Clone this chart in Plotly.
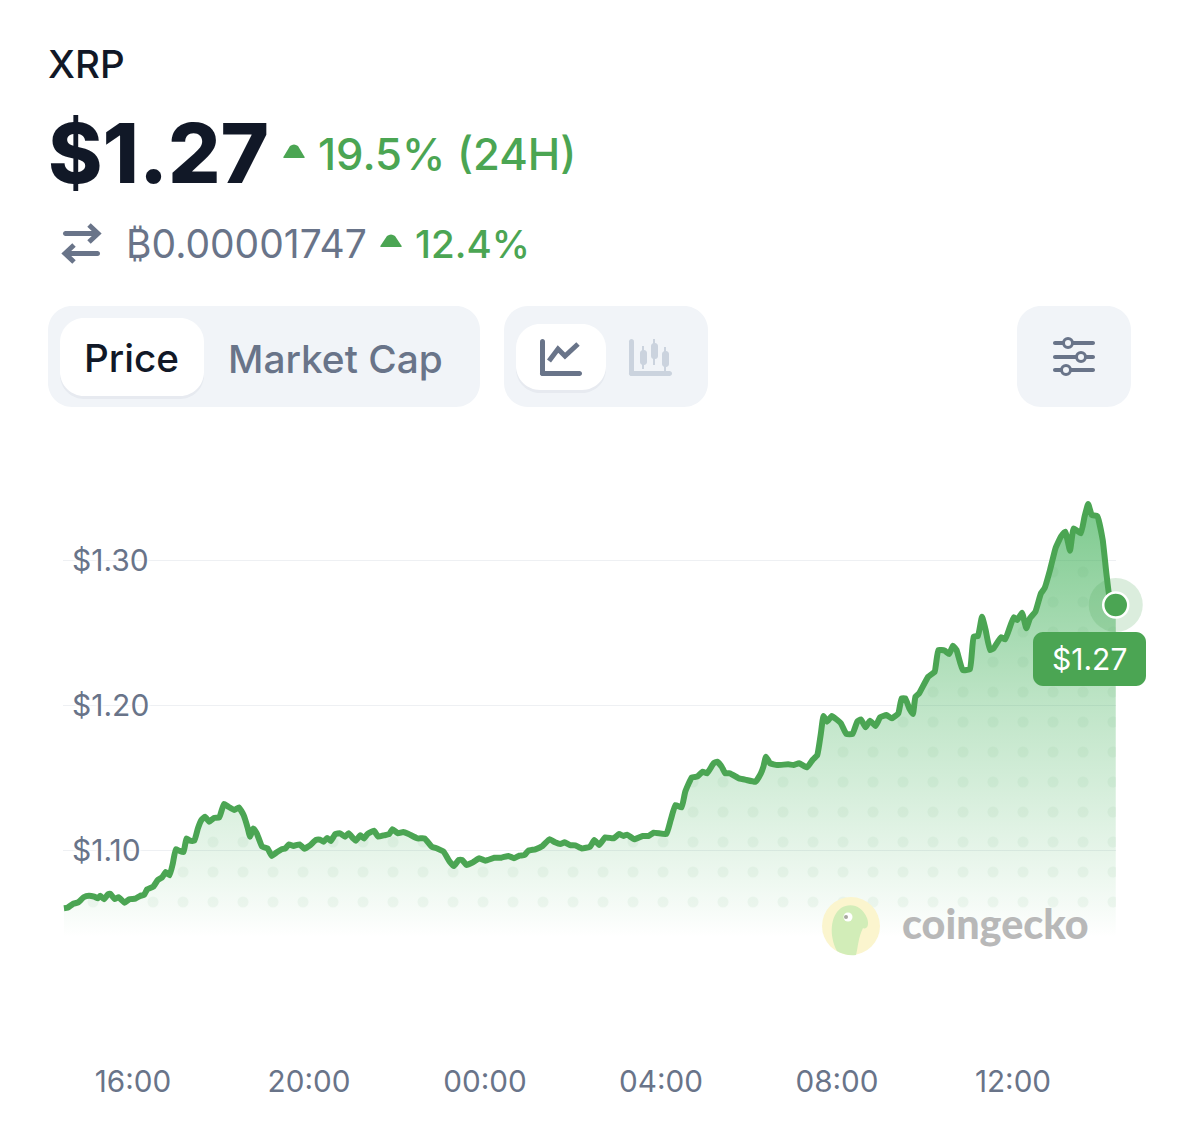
import numpy as np
import plotly.graph_objects as go

W, H = 1179, 1121
GREEN = "#4BA553"
SLATE = "#697489"
INK = "#111827"
PANEL = "#F1F4F8"

# hours since midnight of the first day
hours = [14.430,14.511,14.633,14.755,14.877,14.998,15.120,15.201,15.258,15.339,15.429,15.485,15.583,15.672,15.810,15.916,
16.054,16.159,16.256,16.321,16.459,16.565,16.662,16.744,16.833,16.906,16.971,17.052,17.149,17.214,17.295,17.393,17.474,17.555,17.636,17.734,17.839,17.961,
18.066,18.164,18.302,18.407,18.513,18.610,18.659,18.732,18.813,18.935,19.057,19.154,19.260,19.381,19.463,19.544,19.649,19.787,19.893,
20.031,20.153,20.250,20.331,20.412,20.493,20.599,20.704,20.818,20.899,21.005,21.062,21.167,21.248,21.329,21.476,21.573,21.695,21.817,21.898,
22.020,22.142,22.263,22.466,22.628,22.791,22.912,23.059,23.197,23.294,23.400,23.481,23.578,23.724,23.870,
24.008,24.211,24.373,24.535,24.657,24.779,24.901,24.982,25.144,25.307,25.469,25.591,25.712,25.810,25.931,26.053,26.200,
26.386,26.485,26.593,26.733,26.923,27.047,27.146,27.229,27.394,27.584,27.725,27.832,
28.122,28.221,28.328,28.469,28.551,28.700,28.824,28.948,29.047,29.196,29.279,29.378,29.460,29.568,29.774,29.940,
30.146,30.270,30.328,30.386,30.477,30.642,30.890,31.014,31.138,31.320,31.444,31.551,31.634,31.692,31.775,31.882,
32.088,32.212,32.353,32.460,32.543,32.650,32.750,32.874,32.981,33.122,33.246,33.394,33.469,33.551,33.642,33.725,33.783,33.866,
34.072,34.221,34.303,34.444,34.551,34.634,34.717,34.857,35.022,35.105,35.204,35.295,35.378,35.477,35.560,35.725,35.824,
36.014,36.097,36.204,36.303,36.386,36.510,36.634,36.717,36.841,36.965,37.089,37.188,37.296,37.378,37.543,37.626,37.708,37.791,37.915,
38.039,38.122,38.220,38.335]

prices = [1.0598,1.0602,1.0628,1.0639,1.0674,1.0685,1.0678,1.0667,1.0685,1.0660,1.0694,1.0697,1.0662,1.0674,1.0637,1.0660,
1.0664,1.0683,1.0692,1.0729,1.0747,1.0793,1.0811,1.0848,1.0825,1.0908,1.1005,1.0995,1.0986,1.1080,1.1064,1.1064,1.1149,1.1207,1.1230,1.1195,1.1221,1.1225,
1.1317,1.1299,1.1276,1.1294,1.1241,1.1149,1.1092,1.1149,1.1115,1.1023,1.1011,1.0959,1.0982,1.1005,1.1011,1.1039,1.1028,1.1039,1.1009,
1.1034,1.1069,1.1071,1.1057,1.1083,1.1062,1.1110,1.1115,1.1092,1.1115,1.1080,1.1064,1.1101,1.1080,1.1110,1.1133,1.1092,1.1101,1.1108,1.1143,
1.1115,1.1124,1.1110,1.1080,1.1080,1.1023,1.1011,1.0989,1.0920,1.0890,1.0931,1.0931,1.0897,1.0915,1.0943,
1.0926,1.0947,1.0947,1.0959,1.0943,1.0961,1.0966,1.0995,1.1005,1.1028,1.1074,1.1053,1.1041,1.1053,1.1034,1.1032,1.1011,
1.1023,1.1069,1.1034,1.1087,1.1080,1.1110,1.1097,1.1106,1.1074,1.1097,1.1097,1.1120,
1.1110,1.1207,1.1310,1.1294,1.1402,1.1501,1.1506,1.1540,1.1529,1.1598,1.1609,1.1575,1.1529,1.1529,1.1494,1.1483,
1.1471,1.1529,1.1575,1.1644,1.1598,1.1586,1.1591,1.1586,1.1598,1.1570,1.1621,1.1655,1.1805,1.1924,1.1885,1.1924,
1.1874,1.1800,1.1800,1.1885,1.1901,1.1846,1.1892,1.1855,1.1915,1.1931,1.1908,1.1943,1.2046,1.2046,1.1977,1.1938,1.2057,1.2080,
1.2195,1.2230,1.2379,1.2375,1.2352,1.2409,1.2379,1.2241,1.2248,1.2471,1.2476,1.2609,1.2517,1.2379,1.2391,1.2467,1.2453,
1.2605,1.2586,1.2637,1.2529,1.2598,1.2644,1.2770,1.2805,1.2931,1.3080,1.3161,1.3195,1.3064,1.3218,1.3184,1.3299,1.3386,1.3310,1.3303,
1.3138,1.2908,1.2700,1.2690]

x_tick_vals = [16, 20, 24, 28, 32, 36]
x_tick_text = ["16:00", "20:00", "00:00", "04:00", "08:00", "12:00"]
y_tick_vals = [1.10, 1.20, 1.30]
y_tick_text = ["$1.10", "$1.20", "$1.30"]

# plot frame in page pixels, and the axis ranges that go with it
LEFT, RIGHT, TOP, BOTTOM = 63, 1116, 490, 1060
X_RANGE = [16 + (LEFT - 133) / 44, 16 + (RIGHT - 133) / 44]
Y_RANGE = [1.10 - (BOTTOM - 850) / 1450, 1.10 + (850 - TOP) / 1450]


def fx(p):
    return p / W


def fy(p):
    return 1 - p / H


def P(cmds):
    out = []
    for c in cmds:
        if isinstance(c, str):
            out.append(c)
        else:
            out.append(f"{fx(c[0]):.5f},{fy(c[1]):.5f}")
    return " ".join(out)


def rrect(x0, y0, x1, y1, r, fill, line=None):
    k = r * 0.45
    path = P(["M", (x0 + r, y0), "L", (x1 - r, y0),
              "C", (x1 - k, y0), (x1, y0 + k), (x1, y0 + r),
              "L", (x1, y1 - r),
              "C", (x1, y1 - k), (x1 - k, y1), (x1 - r, y1),
              "L", (x0 + r, y1),
              "C", (x0 + k, y1), (x0, y1 - k), (x0, y1 - r),
              "L", (x0, y0 + r),
              "C", (x0, y0 + k), (x0 + k, y0), (x0 + r, y0), "Z"])
    return dict(type="path", xref="paper", yref="paper", path=path, fillcolor=fill,
                line=dict(width=0 if line is None else 1, color=line or fill))


def stroke(points, color, width):
    cmds = []
    for i, pt in enumerate(points):
        cmds += ["M" if i == 0 else "L", pt]
    return dict(type="path", xref="paper", yref="paper", path=P(cmds),
                line=dict(color=color, width=width))


def circle(cx, cy, r, fill, line=None, lw=0):
    return dict(type="circle", xref="paper", yref="paper",
                x0=fx(cx - r), x1=fx(cx + r), y0=fy(cy + r), y1=fy(cy - r),
                fillcolor=fill, line=dict(color=line or fill, width=lw))


def tri(x0, x1, y0, y1, color):
    m = (x0 + x1) / 2
    return dict(type="path", xref="paper", yref="paper",
                path=P(["M", (x0 + 1, y1 - 2), "L", (m - 4, y0 + 2), "Q", (m, y0 - 1), (m + 4, y0 + 2),
                        "L", (x1 - 1, y1 - 2), "Q", (x1 + 1, y1), (x1 - 2, y1),
                        "L", (x0 + 2, y1), "Q", (x0 - 1, y1), (x0 + 1, y1 - 2), "Z"]),
                fillcolor=color, line=dict(width=0))


def label(text, x, y, size, color, anchor="left", weight=400, family="Inter"):
    return dict(text=text, xref="paper", yref="paper", x=fx(x), y=fy(y), xanchor=anchor, yanchor="middle",
                showarrow=False, align=anchor, borderpad=0, font=dict(size=size, color=color, family=family, weight=weight))


fig = go.Figure()

# area under the line
fig.add_trace(go.Scatter(
    x=hours, y=prices, mode="lines",
    line=dict(color=GREEN, width=6, shape="spline", smoothing=0.35),
    fill="tozeroy",
    fillgradient=dict(type="vertical", start=1.04, stop=1.345,
                      colorscale=[[0, "rgba(60,175,85,0)"], [0.07, "rgba(60,175,85,0.05)"],
                                  [0.197, "rgba(60,175,85,0.13)"], [0.525, "rgba(60,175,85,0.33)"],
                                  [0.754, "rgba(60,175,85,0.5)"], [1, "rgba(60,175,85,0.68)"]]),
    hoverinfo="skip", showlegend=False))

# dotted texture, only visible inside the filled area
dot_px = np.arange(93, 1117, 30)
dot_py = np.arange(902, 560, -30)
gx, gy = np.meshgrid(16 + (dot_px - 133) / 44, 1.10 + (850 - dot_py) / 1450)
gx, gy = gx.ravel(), gy.ravel()
keep = gy < np.interp(gx, hours, prices) - 0.002
fig.add_trace(go.Scatter(
    x=gx[keep], y=gy[keep], mode="markers",
    marker=dict(size=11, color="rgba(60,150,80,0.06)", line=dict(width=0)),
    hoverinfo="skip", showlegend=False))

# end point with halo
fig.add_trace(go.Scatter(
    x=hours[-1:], y=prices[-1:], mode="markers", cliponaxis=False,
    marker=dict(size=54, color="rgba(75,165,83,0.2)", line=dict(width=0)),
    hoverinfo="skip", showlegend=False))
fig.add_trace(go.Scatter(
    x=hours[-1:], y=prices[-1:], mode="markers", cliponaxis=False,
    marker=dict(size=25, color=GREEN, line=dict(width=2.5, color="white")),
    hoverinfo="skip", showlegend=False))

shapes = [
    # top toolbar
    rrect(48, 306, 480, 407, 24, PANEL),
    rrect(60, 321, 204, 399, 24, "rgba(100,116,139,0.07)"),
    rrect(60, 318, 204, 396, 24, "#FFFFFF"),
    rrect(504, 306, 708, 407, 24, PANEL),
    rrect(516, 327, 606, 393, 24, "rgba(100,116,139,0.07)"),
    rrect(516, 324, 606, 390, 24, "#FFFFFF"),
    rrect(1017, 306, 1131, 407, 24, PANEL),
    # line icon
    rrect(540, 339, 545, 376, 2.5, SLATE),
    rrect(540, 371, 582, 376, 2.5, SLATE),
    stroke([(549, 361), (558, 349), (565, 356), (578, 344)], SLATE, 5),
    # candle icon
    rrect(629, 339, 634, 376, 2.5, "#CBD3DE"),
    rrect(629, 371, 672, 376, 2.5, "#CBD3DE"),
    stroke([(643, 346), (643, 369)], "#CBD3DE", 2),
    rrect(640, 350, 647, 365, 3, "#CBD3DE"),
    stroke([(654, 339), (654, 365)], "#CBD3DE", 2),
    rrect(651, 343, 658, 359, 3, "#CBD3DE"),
    stroke([(665, 347), (665, 371)], "#CBD3DE", 2),
    rrect(662, 351, 669, 367, 3, "#CBD3DE"),
    # sliders icon
    rrect(1053, 341, 1095, 345, 2, SLATE),
    rrect(1053, 355, 1095, 359, 2, SLATE),
    rrect(1053, 368, 1095, 372, 2, SLATE),
    circle(1068, 343, 4.5, PANEL, SLATE, 3),
    circle(1081, 357, 4.5, PANEL, SLATE, 3),
    circle(1066, 370, 4.5, PANEL, SLATE, 3),
    # swap icon
    rrect(63, 231, 99, 236, 2.5, SLATE),
    stroke([(89, 225), (98, 233.5), (89, 242)], SLATE, 5),
    rrect(64, 251, 100, 256, 2.5, SLATE),
    stroke([(74, 245), (65, 253.5), (74, 262)], SLATE, 5),
    # change arrows
    tri(283, 305, 144, 158, GREEN),
    tri(380, 402, 234, 247, GREEN),
    # value badge
    rrect(1033, 632, 1146, 686, 10, GREEN),
    # watermark logo
    circle(851, 926, 29, "#FBF5CE"),
    dict(type="path", xref="paper", yref="paper", fillcolor="#D2EDB8", line=dict(width=0),
         path=P(["M", (837, 951), "C", (829, 936), (830, 916), (841, 908),
                 "C", (851, 902), (862, 906), (867, 918),
                 "C", (870, 926), (866, 930), (863, 928),
                 "C", (858, 938), (858, 948), (856, 955),
                 "C", (849, 956), (842, 954), (837, 951), "Z"])),
    circle(848, 917, 4.5, "#FFFFFF"),
    circle(846, 917, 2, "#A8A8A0"),
]

annotations = [
    label("XRP", 47, 64, 38.5, INK, weight=500),
    label("$1.27", 47, 153, 82.5, INK, weight=800),
    label("19.5% (24H)", 317, 155, 43.6, GREEN, weight=500),
    label("₿0.00001747", 125, 244, 39, SLATE),
    label("12.4%", 414, 244, 38.5, GREEN, weight=500),
    label("Price", 83, 358, 38.7, INK, weight=500),
    label("Market Cap", 227, 358, 38.8, SLATE, weight=500),
    label("$1.27", 1089, 659, 30, "#FFFFFF", anchor="center"),
    label("coingecko", 901, 923, 41.3, "#B8B8B8", weight=900, family="Lato"),
]

fig.update_layout(
    width=W, height=H, margin=dict(l=0, r=0, t=0, b=0),
    paper_bgcolor="white", plot_bgcolor="white", showlegend=False,
    shapes=shapes, annotations=annotations,
    xaxis=dict(domain=[fx(LEFT), fx(RIGHT)], range=X_RANGE, tickmode="array",
               tickvals=x_tick_vals, ticktext=x_tick_text, showgrid=False, zeroline=False,
               showline=False, ticks="", ticklabelstandoff=1,
               tickfont=dict(size=29.7, color=SLATE, family="Inter")),
    yaxis=dict(domain=[fy(BOTTOM), fy(TOP)], range=Y_RANGE, tickmode="array",
               anchor="free", position=fx(LEFT), side="right",
               tickvals=y_tick_vals, ticktext=y_tick_text, showgrid=True,
               gridcolor="#EEF0F3", gridwidth=1, zeroline=False, showline=False, ticks="",
               ticklabelstandoff=8,
               tickfont=dict(size=30, color=SLATE, family="Inter",
                             shadow="0 0 3px white, 0 0 3px white, 0 0 4px white, 0 0 5px white")),
)

fig.write_html("out.html", config={"displayModeBar": False},
               post_script="document.body.style.margin='0';document.documentElement.style.overflow='hidden';")
